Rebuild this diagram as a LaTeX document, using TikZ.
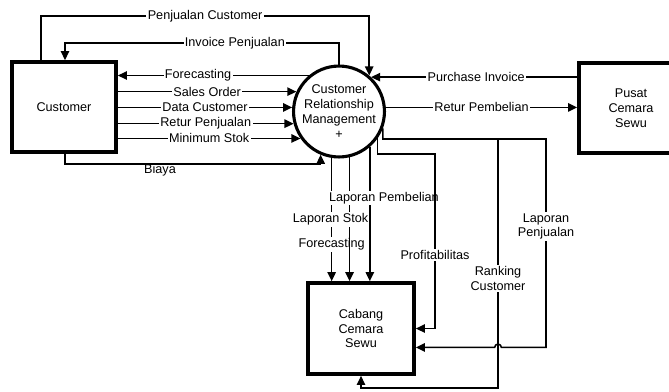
\documentclass[tikz,border=0pt]{standalone}
\usepackage{fontspec}
\setmainfont{Liberation Sans}
\usetikzlibrary{arrows.meta,calc}
\begin{document}
\begin{tikzpicture}[x=0.025cm,y=-0.025cm,
		every node/.style={font=\fontsize{9}{10.5}\selectfont},
		entity/.style={draw,line width=2.6pt,minimum width=2.6cm,minimum height=2.25cm,align=center},
		process/.style={draw,circle,line width=2.2pt,minimum size=2.2cm,inner sep=0pt,align=center},
		flow/.style={line width=1.1pt,-{Triangle[length=6.5pt,width=6pt]}},
		lbl/.style={fill=white,inner sep=1pt,align=center}]
		\useasboundingbox (0,0) rectangle (669,391);
		
		% 实体和过程
		\node[entity] (cust) at (64,107) {Customer};
		\node[process] (crm) at (339,111.5) {Customer\\Relationship\\Management\\+};
		\node[entity] (pusat) at (631,108) {Pusat\\Cemara\\Sewu};
		\node[entity,minimum width=2.65cm,minimum height=2.275cm] (cabang) at (361,328.5) {Cabang\\Cemara\\Sewu};
		
		% 折线的拐点
		\coordinate (pc) at (41,16);
		\coordinate (ip) at (65,43);
		\coordinate (bi) at (65,164);
		\coordinate (pf) at (435,154);
		\coordinate (lpj) at (546,139);
		\coordinate (rk) at (498,139);
		\coordinate (rkb) at (498,388);
		\coordinate (lpin) at ($(cabang.east)!0.4!(cabang.south east)$);
		\coordinate (hop) at (rk |- lpin);
		
		% Customer 与过程之间
		\draw[flow] (cust.north -| pc) |- (crm.50 |- pc) node[lbl,pos=0.75] {Penjualan Customer} -- (crm.50);
		\draw[flow] (crm.north) |- (ip) node[lbl,pos=0.69] {Invoice Penjualan} -- (ip |- cust.north);
		\draw[flow] (crm.130) -- (crm.130 -| cust.east) node[lbl,pos=0.58] {Forecasting};
		\draw[flow] (crm.155 -| cust.east) -- (crm.155) node[lbl,midway] {Sales Order};
		\draw[flow] (crm.175 -| cust.east) -- (crm.175) node[lbl,midway] {Data Customer};
		\draw[flow] (crm.195 -| cust.east) -- (crm.195) node[lbl,midway] {Retur Penjualan};
		\draw[flow] (crm.215 -| cust.east) -- (crm.215) node[lbl,midway] {Minimum Stok};
		\draw[flow] (cust.south -| bi) |- (crm.247 |- bi) -- (crm.247);
		\node (biaya) at (160,170) {Biaya};
		
		% Pusat 与过程之间
		\draw[flow] (crm.47 -| pusat.west) -- (crm.47) node[lbl,pos=0.49] {Purchase Invoice};
		\draw[flow] (crm.5) -- (crm.5 -| pusat.west) node[lbl,midway] {Retur Pembelian};
		
		% 过程到 Cabang
		\draw[flow] (crm.261) -- (crm.261 |- cabang.north) node[lbl,pos=0.7] {Forecasting};
		\draw[flow] (crm.283) -- (crm.283 |- cabang.north) node[lbl,pos=0.5,xshift=-13.5pt] {Laporan Stok};
		\draw[flow] (crm.311) -- (crm.311 |- cabang.north) node[lbl,pos=0.38,xshift=10pt] {Laporan Pembelian};
		\draw[flow] (crm.325) |- (pf) |- (cabang.east) node[lbl,pos=0.29] {Profitabilitas};
		\draw[flow] (crm.339) |- (lpj) |- node[lbl,pos=0.21] {Laporan\\Penjualan} ([xshift=2.4pt]hop)
			arc[start angle=0,end angle=180,radius=2.4pt] -- (lpin);
		\draw[flow] (rk) -- (rkb) node[lbl,pos=0.56] {Ranking\\Customer} -| (cabang.south);
	\end{tikzpicture}
\end{document}
